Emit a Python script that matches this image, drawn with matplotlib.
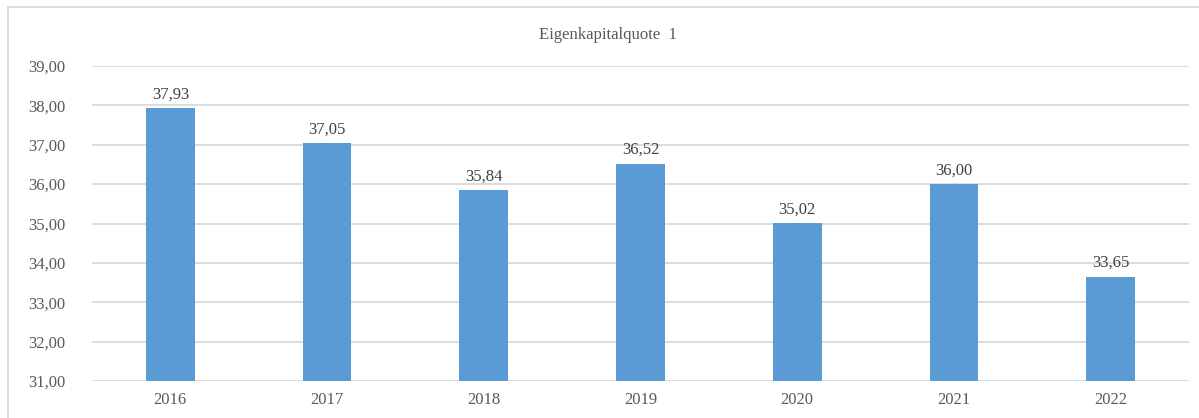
import matplotlib.pyplot as plt
from matplotlib.patches import Rectangle

plt.rcParams['font.family'] = ['Liberation Serif', 'DejaVu Serif']

years = ['2016', '2017', '2018', '2019', '2020', '2021', '2022']
quote = [37.93, 37.05, 35.84, 36.52, 35.02, 36.00, 33.65]
yticks = [31, 32, 33, 34, 35, 36, 37, 38, 39]

fig = plt.figure(figsize=(11.99, 4.18), dpi=100)
ax = fig.add_axes([92 / 1199, 1 - 381 / 418, (1189 - 92) / 1199, (381 - 66) / 418])

bars = ax.bar(range(len(years)), quote, width=0.31, color='#5B9BD5', zorder=3)
for i, v in enumerate(quote):
    ax.annotate(f'{v:.2f}'.replace('.', ','), (i, v), xytext=(0, 4),
                textcoords='offset points', ha='center', va='bottom',
                fontsize=12, color='#404040')

ax.set_xlim(-0.5, len(years) - 0.5)
ax.set_ylim(31, 39)
ax.set_yticks(yticks)
ax.set_yticklabels([f'{t:.2f}'.replace('.', ',') for t in yticks])
ax.set_xticks(range(len(years)))
ax.set_xticklabels(years)
ax.tick_params(axis='y', length=0, pad=19, labelsize=12, labelcolor='#595959')
ax.tick_params(axis='x', length=0, pad=8, labelsize=12, labelcolor='#595959')
ax.grid(axis='y', color='#D9D9D9', lw=1.3, zorder=0)
for s in ax.spines.values():
    s.set_visible(False)

fig.text(608 / 1199, 1 - 35 / 418, 'Eigenkapitalquote  1', ha='center', va='center',
         fontsize=12, color='#595959')

# chart frame
fig.patches.append(Rectangle((8 / 1199, -0.05), 1.1, 1 - 7 / 418 + 0.05,
                             transform=fig.transFigure, fill=False,
                             edgecolor='#D9D9D9', lw=1.3))

fig.savefig('out.png', dpi=100, facecolor='white')
